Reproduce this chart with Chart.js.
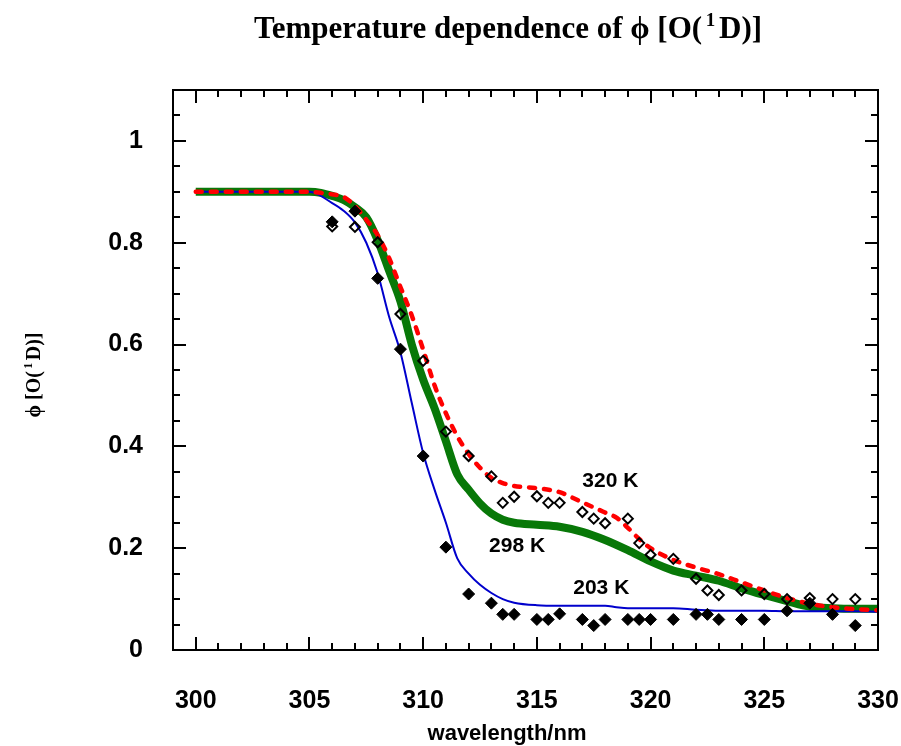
<!DOCTYPE html>
<html>
<head>
<meta charset="utf-8">
<script src="https://cdn.jsdelivr.net/npm/chart.js@4.4.1/dist/chart.umd.min.js"></script>
<style>
html,body{margin:0;padding:0;background:#fff;}
#wrap{width:901px;height:746px;}
</style>
</head>
<body>
<div id="wrap"><canvas id="c" width="901" height="746"></canvas></div>
<script>
// ---- data ----
const xTickLabels = [300, 305, 310, 315, 320, 325, 330];
const yTickLabels = [0, 0.2, 0.4, 0.6, 0.8, 1];

const wl203 = [300,305,306,306.5,307,307.5,308,308.5,309,309.5,310,310.5,311,311.5,312,312.5,313,313.5,314,315,316,317,318,318.5,319,320,321,322,323,324,325,326,327,328,329,330];
const phi203 = [0.9,0.9,0.878,0.863,0.84,0.80,0.74,0.655,0.585,0.485,0.387,0.315,0.25,0.18,0.15,0.128,0.112,0.10,0.093,0.088,0.087,0.087,0.087,0.084,0.082,0.082,0.082,0.079,0.077,0.077,0.077,0.076,0.076,0.076,0.076,0.075];

const wl298 = [300,305,305.5,306,306.5,307,307.5,308,308.5,309,309.5,310,310.5,311,311.5,312,312.5,313,313.5,314,315,316,317,318,319,320,321,322,323,324,325,326,327,328,329,330];
const phi298 = [0.9,0.9,0.898,0.892,0.884,0.87,0.85,0.805,0.745,0.685,0.60,0.531,0.475,0.41,0.345,0.315,0.288,0.268,0.256,0.25,0.246,0.242,0.232,0.216,0.196,0.174,0.156,0.146,0.136,0.121,0.108,0.096,0.085,0.082,0.081,0.081];

const wl320 = [300,305,305.5,306,306.5,307,307.5,308,308.5,309,309.5,310,310.5,311,311.5,312,312.5,313,313.5,314,315,316,317,318,318.5,319,319.5,320,321,322,323,324,325,326,327,328,329,330];
const phi320 = [0.9,0.9,0.898,0.895,0.89,0.872,0.845,0.815,0.77,0.713,0.657,0.59,0.52,0.465,0.42,0.385,0.358,0.338,0.328,0.322,0.318,0.31,0.29,0.27,0.26,0.24,0.218,0.2,0.177,0.162,0.149,0.133,0.117,0.102,0.091,0.084,0.08,0.078];

const wlMeas = [306,307,308,309,310,311,312,313,313.5,314,315,315.5,316,317,317.5,318,319,319.5,320,321,322,322.5,323,324,325,326,327,328,329];
const meas203 = [0.841,0.862,0.730,0.591,0.381,0.202,0.110,0.092,0.070,0.070,0.060,0.060,0.071,0.060,0.048,0.060,0.060,0.060,0.060,0.060,0.070,0.070,0.060,0.060,0.060,0.077,0.092,0.070,0.048];
const meas320 = [0.832,0.831,0.801,0.660,0.568,0.429,0.381,0.341,0.289,0.301,0.302,0.289,0.289,0.271,0.258,0.249,0.258,0.210,0.187,0.179,0.140,0.117,0.108,0.117,0.110,0.100,0.102,0.100,0.100];

const curveLabels = ['320 K', '298 K', '203 K'];
const curveLabelX = [317.0, 312.9, 316.6];
const curveLabelY = [0.331, 0.203, 0.122];

const pts = (xs, ys) => xs.map((x, i) => ({x: x, y: ys[i]}));

const PHI = '\u03D5';

// ---- plugin: box, inward ticks, titles, curve labels ----
const framePlugin = {
  id: 'frame',
  afterDraw(chart) {
    const ctx = chart.ctx, a = chart.chartArea;
    const xs = chart.scales.x, ys = chart.scales.y;
    ctx.save();
    ctx.strokeStyle = '#000';
    ctx.lineWidth = 2;
    ctx.strokeRect(a.left, a.top, a.right - a.left, a.bottom - a.top);
    ctx.beginPath();
    for (let v = 300; v <= 330; v++) {
      const px = Math.round(xs.getPixelForValue(v));
      const len = (v % 5 === 0) ? 13 : 7;
      ctx.moveTo(px, a.bottom); ctx.lineTo(px, a.bottom - len);
      ctx.moveTo(px, a.top); ctx.lineTo(px, a.top + len);
    }
    for (let k = 0; k <= 22; k++) {
      const v = k * 0.05;
      const py = Math.round(ys.getPixelForValue(v));
      const len = (k % 4 === 0) ? 13 : 7;
      ctx.moveTo(a.left, py); ctx.lineTo(a.left + len, py);
      ctx.moveTo(a.right, py); ctx.lineTo(a.right - len, py);
    }
    ctx.stroke();

    // curve labels
    ctx.fillStyle = '#000';
    ctx.font = 'bold 21px "Liberation Sans", Arial, sans-serif';
    ctx.textAlign = 'left';
    ctx.textBaseline = 'middle';
    curveLabels.forEach((t, i) => {
      ctx.fillText(t, xs.getPixelForValue(curveLabelX[i]), ys.getPixelForValue(curveLabelY[i]));
    });

    function serif(size) { return 'bold ' + size + 'px "Liberation Serif", "Times New Roman", serif'; }
    function supWidth(size) {
      ctx.font = serif(size); const w1 = ctx.measureText(PHI + ' [O(').width, w3 = ctx.measureText('D)]').width;
      ctx.font = serif(Math.round(size * 0.62)); const w2 = ctx.measureText('1').width;
      return w1 + w2 + w3 + 2 * size * 0.12;
    }
    // text with superscript "1", left-aligned at x
    function supText(x, cy, size) {
      const gap = size * 0.12;
      ctx.textAlign = 'left'; ctx.textBaseline = 'alphabetic';
      ctx.font = serif(size); ctx.fillText(PHI + ' [O(', x, cy); x += ctx.measureText(PHI + ' [O(').width + gap;
      ctx.font = serif(Math.round(size * 0.62)); ctx.fillText('1', x, cy - size * 0.38); x += ctx.measureText('1').width + gap;
      ctx.font = serif(size); ctx.fillText('D)]', x, cy);
    }

    // main title
    const tsize = 31;
    ctx.font = serif(tsize);
    const pre = 'Temperature dependence of ';
    const wPre = ctx.measureText(pre).width;
    const wSup = supWidth(tsize);
    const startX = 508 - (wPre + wSup) / 2;
    ctx.font = serif(tsize); ctx.textAlign = 'left'; ctx.textBaseline = 'alphabetic';
    ctx.fillText(pre, startX, 38);
    supText(startX + wPre, 38, tsize);

    // y axis title (rotated)
    ctx.save();
    ctx.translate(40, 375);
    ctx.rotate(-Math.PI / 2);
    supText(-supWidth(20) / 2, 0, 20);
    ctx.restore();

    // x axis title
    ctx.font = 'bold 22px "Liberation Sans", Arial, sans-serif';
    ctx.textAlign = 'center';
    ctx.textBaseline = 'middle';
    ctx.fillText('wavelength/nm', 507, 734);
    ctx.restore();
  }
};

new Chart(document.getElementById('c'), {
  type: 'scatter',
  data: {
    datasets: [
      { label: 'measured 203 K', data: pts(wlMeas, meas203), pointStyle: 'rectRot', pointRadius: 6,
        backgroundColor: '#000', borderColor: '#000', borderWidth: 1, showLine: false },
      { label: 'measured 320 K', data: pts(wlMeas, meas320), pointStyle: 'rectRot', pointRadius: 5,
        backgroundColor: 'rgba(0,0,0,0)', borderColor: '#000', borderWidth: 2, showLine: false },
      { label: '320 K', data: pts(wl320, phi320), showLine: true, borderColor: '#ff0000', borderWidth: 4.5,
        borderDash: [6, 9], borderCapStyle: 'round', pointRadius: 0, cubicInterpolationMode: 'monotone', fill: false },
      { label: '203 K', data: pts(wl203, phi203), showLine: true, borderColor: '#0000cc', borderWidth: 2,
        pointRadius: 0, cubicInterpolationMode: 'monotone', fill: false },
      { label: '298 K', data: pts(wl298, phi298), showLine: true, borderColor: '#087808', borderWidth: 8,
        pointRadius: 0, cubicInterpolationMode: 'monotone', fill: false }
    ]
  },
  options: {
    responsive: false,
    animation: false,
    devicePixelRatio: 1,
    layout: { padding: { top: 90, right: 23, left: 0, bottom: 0 } },
    plugins: { legend: { display: false }, tooltip: { enabled: false }, title: { display: false } },
    scales: {
      x: {
        type: 'linear', min: 299, max: 330,
        grid: { display: false, drawTicks: false, tickLength: 0 },
        border: { display: false },
        afterBuildTicks: s => { s.ticks = xTickLabels.map(v => ({ value: v })); },
        afterFit: s => { s.height = 96; s.paddingLeft = 0; s.paddingRight = 0; },
        ticks: { padding: 36, color: '#000', font: { family: '"Liberation Sans", Arial, sans-serif', size: 25, weight: 'bold' },
          maxRotation: 0, autoSkip: false, callback: v => String(v) }
      },
      y: {
        type: 'linear', min: 0, max: 1.1,
        grid: { display: false, drawTicks: false, tickLength: 0 },
        border: { display: false },
        afterBuildTicks: s => { s.ticks = yTickLabels.map(v => ({ value: v })); },
        afterFit: s => { s.width = 173; s.paddingTop = 0; s.paddingBottom = 0; },
        ticks: { padding: 30, color: '#000', font: { family: '"Liberation Sans", Arial, sans-serif', size: 25, weight: 'bold' },
          autoSkip: false, callback: v => String(Math.round(v * 10) / 10) }
      }
    }
  },
  plugins: [framePlugin]
});
</script>
</body>
</html>
